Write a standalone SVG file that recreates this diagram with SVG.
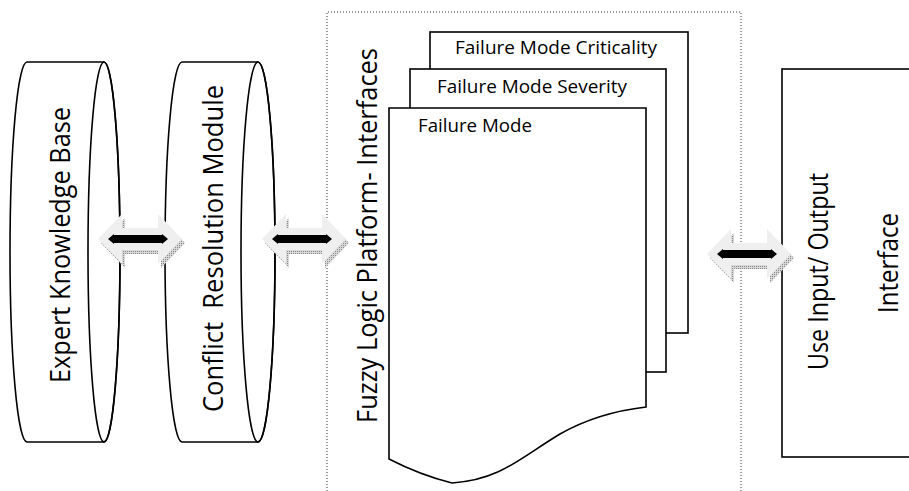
<svg xmlns="http://www.w3.org/2000/svg" width="909" height="491" viewBox="0 0 909 491">
<style>
  .shape { fill: #ffffff; stroke: #000000; stroke-width: 1.6; }
  .edge { fill: none; stroke: #000000; stroke-width: 1.6; }
  .frame { fill: none; stroke: #333333; stroke-width: 1; stroke-dasharray: 1 2; }
  .big { font-family: "Open Sans", "Liberation Sans", sans-serif; font-size: 27px; fill: #000000; text-anchor: middle; }
  .doc { font-family: "Open Sans", "Liberation Sans", sans-serif; font-size: 18px; fill: #000000; }
  .outer { fill: #efefef; }
  .shadow { fill: url(#hatch); }
  .inner { fill: #000000; }
</style>
<defs>
  <pattern id="hatch" width="2" height="2" patternUnits="userSpaceOnUse">
    <rect width="2" height="2" fill="#d8d8d8"/>
    <rect width="1" height="1" fill="#888888"/>
  </pattern>
  <path id="arrowOuter" d="M0,0 L24,-25 L24,-11 L60,-11 L60,-25 L84,0 L60,25 L60,11 L24,11 L24,25 Z"/>
  <path id="arrowInner" d="M10,0 L16,-5 L16,-4 L64,-4 L64,-5 L70,0 L64,5 L64,4 L16,4 L16,5 Z"/>
</defs>

<g id="platform-frame">
  <path class="frame" d="M327,500 L327,12 L741,12 L741,500"/>
</g>

<g id="expert-knowledge-base">
  <path class="shape" d="M27,62 L104,62 A16,190 0 0 1 104,442 L27,442 A17,190 0 0 1 27,62 Z"/>
  <ellipse class="edge" cx="104" cy="252" rx="16" ry="190"/>
  <text class="big" transform="translate(70,245) rotate(-90)" textLength="276" lengthAdjust="spacingAndGlyphs">Expert Knowledge Base</text>
</g>

<g id="conflict-resolution-module">
  <path class="shape" d="M182,62 L258,62 A17,190 0 0 1 258,442 L182,442 A17,190 0 0 1 182,62 Z"/>
  <ellipse class="edge" cx="258" cy="252" rx="17" ry="190"/>
  <text class="big" transform="translate(223,248.5) rotate(-90)" textLength="327" lengthAdjust="spacingAndGlyphs" xml:space="preserve">Conflict  Resolution Module</text>
</g>

<g id="fuzzy-logic-platform">
  <text class="big" transform="translate(377,235.5) rotate(-90)" textLength="375" lengthAdjust="spacingAndGlyphs">Fuzzy Logic Platform- Interfaces</text>
</g>

<g id="failure-mode-criticality">
  <rect class="shape" x="430" y="32" width="258" height="301"/>
  <text class="doc" x="455" y="53.5" textLength="202" lengthAdjust="spacingAndGlyphs">Failure Mode Criticality</text>
</g>

<g id="failure-mode-severity">
  <rect class="shape" x="410" y="69" width="256" height="303"/>
  <text class="doc" x="437" y="92.5" textLength="190" lengthAdjust="spacingAndGlyphs">Failure Mode Severity</text>
</g>

<g id="failure-mode">
  <path class="shape" d="M389,108 L646,108 L646,407 C620,410 590,417 560,434 C520,458 500,480 452,483 Q420,475 389,459 Z"/>
  <text class="doc" x="418" y="131.5" textLength="114" lengthAdjust="spacingAndGlyphs">Failure Mode</text>
</g>

<g id="user-io-interface">
  <rect class="shape" x="782" y="69" width="150" height="388"/>
  <text class="big" transform="translate(828,271.5) rotate(-90)" textLength="197" lengthAdjust="spacingAndGlyphs">Use Input/ Output</text>
  <text class="big" transform="translate(898,263) rotate(-90)" textLength="100" lengthAdjust="spacingAndGlyphs">Interface</text>
</g>

<g id="connectors">
  <g transform="translate(98,239)">
    <use href="#arrowOuter" class="shadow" x="3" y="4"/>
    <use href="#arrowOuter" class="outer"/>
    <use href="#arrowInner" class="inner"/>
  </g>
  <g transform="translate(262,239)">
    <use href="#arrowOuter" class="shadow" x="3" y="4"/>
    <use href="#arrowOuter" class="outer"/>
    <use href="#arrowInner" class="inner"/>
  </g>
  <g transform="translate(707,254)">
    <use href="#arrowOuter" class="shadow" x="3" y="4"/>
    <use href="#arrowOuter" class="outer"/>
    <use href="#arrowInner" class="inner"/>
  </g>
</g>
</svg>
